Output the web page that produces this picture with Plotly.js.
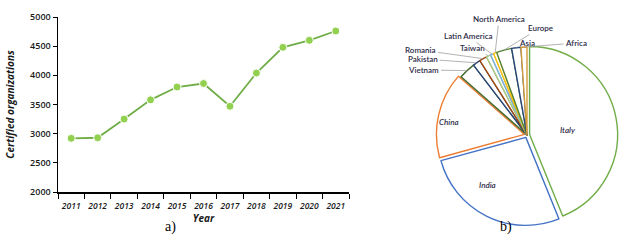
<!DOCTYPE html>
<html>
<head>
<meta charset="utf-8">
<script src="https://cdn.plot.ly/plotly-3.0.1.min.js"></script>
<style>html,body{margin:0;padding:0;background:#fff;}#chart{width:626px;height:247px;}</style>
</head>
<body>
<div id="chart"></div>
<script>
// ---- data: line chart (a) ----
var years = ['2011','2012','2013','2014','2015','2016','2017','2018','2019','2020','2021'];
var certified = [2920, 2930, 3250, 3580, 3800, 3860, 3470, 4040, 4480, 4600, 4760];

// ---- data: pie chart (b) ----
var regions = ['Italy','India','China','Vietnam','Pakistan','Romania','Taiwan','Latin America','North America','Europe','Asia','Africa'];
var shares = [43.9, 26.9, 15.8, 3.1, 1.4, 1.4, 0.8, 0.6, 0.6, 2.8, 1.7, 1.1];
var sliceColors = ['#70AD47','#4472C4','#ED7D31','#43682B','#264478','#9E480E','#A9D18E','#7CAFDD','#FFC000','#548235','#264478','#D39A3B'];
var slicePull = [0.03,0.03,0.03,0,0,0,0,0,0,0,0,0];

var W = 626, H = 247;
function px(x){return x/W;}
function py(y){return 1 - y/H;}

// pie geometry (layout)
var cx = 527, cy = 135, R = 88;
var maxPull = Math.max.apply(null, slicePull);
var box = 2*R*(1+maxPull);

var lineTrace = {
  type:'scatter', mode:'lines+markers', x: years, y: certified,
  xaxis:'x', yaxis:'y',
  line:{color:'#70AD47', width:1.8},
  marker:{color:'#92D050', size:8, line:{color:'#ffffff', width:1}},
  hoverinfo:'none', showlegend:false
};

var pieTrace = {
  type:'pie', labels: regions, values: shares, sort:false, direction:'clockwise', rotation:0,
  pull: slicePull, textinfo:'none', hoverinfo:'none', showlegend:false,
  marker:{colors: regions.map(function(){return '#ffffff';}), line:{color: sliceColors, width:1.4}},
  domain:{x:[px(cx-box/2), px(cx+box/2)], y:[py(cy+box/2), py(cy-box/2)]}
};

// label positions (layout)
var inside = {'Italy':[578,130], 'India':[498,192], 'China':[461,122]};
var outside = {
  'Vietnam':[424,70], 'Pakistan':[423,59], 'Romania':[421,50], 'Taiwan':[472,48],
  'Latin America':[468,36], 'North America':[499,19], 'Europe':[540,28], 'Asia':[527,43], 'Africa':[576,43]
};
var labelColor = '#2e2a48';
var labelFamily = 'Lato, "Open Sans", sans-serif';

var annotations = [];
var total = shares.reduce(function(a,b){return a+b;},0);
var cum = 0;
for (var i=0;i<regions.length;i++){
  var mid = (cum + shares[i]/2)/total*2*Math.PI;
  cum += shares[i];
  var name = regions[i];
  if (inside[name]){
    annotations.push({xref:'paper', yref:'paper', x:px(inside[name][0]), y:py(inside[name][1]),
      text:name, showarrow:false, font:{family:labelFamily, size:8, color:labelColor, style:'italic', weight:600}});
  } else if (outside[name]){
    var tx = cx + R*Math.sin(mid), ty = cy - R*Math.cos(mid);
    annotations.push({xref:'paper', yref:'paper', x:px(tx), y:py(ty),
      ax: outside[name][0]-tx, ay: outside[name][1]-ty,
      text:name, showarrow:true, arrowhead:0, arrowwidth:0.8, arrowcolor:'#a0a0a0', standoff:0,
      font:{family:labelFamily, size:8, color:labelColor, weight:600}});
  }
}
annotations.push({xref:'paper', yref:'paper', x:px(163), y:py(237), text:'a)', showarrow:false,
  font:{family:'"Liberation Serif", "DejaVu Serif", serif', size:14, color:'#000'}});
annotations.push({xref:'paper', yref:'paper', x:px(514), y:py(237), text:'b)', showarrow:false,
  font:{family:'"Liberation Serif", "DejaVu Serif", serif', size:14, color:'#000'}});

var fam = '"Open Sans", Lato, sans-serif';

var layout = {
  width:W, height:H, margin:{l:0,r:0,t:0,b:0}, paper_bgcolor:'#fff', plot_bgcolor:'#fff',
  xaxis:{domain:[px(58), px(349)], type:'category', range:[-0.5, 10.5], tickson:'boundaries',
    ticks:'outside', ticklen:5, tickcolor:'#000', tickwidth:1, showline:true, linecolor:'#000', linewidth:1.5,
    showgrid:false, zeroline:false, fixedrange:true, tickangle:0, ticklabelstandoff:5,
    tickfont:{family:fam, size:8.5, color:'#1a1a1a', weight:600, style:'italic'},
    title:{text:'Year', font:{family:fam, size:10, color:'#1a1a1a', weight:700, style:'italic'}, standoff:5}},
  yaxis:{domain:[py(192), py(17)], range:[2000, 5000], dtick:500, tick0:2000,
    ticks:'outside', ticklen:4, tickcolor:'#000', showline:true, linecolor:'#000', linewidth:1.5,
    showgrid:false, zeroline:false, fixedrange:true,
    tickfont:{family:fam, size:9, color:'#1a1a1a', weight:600},
    title:{text:'Certified organizations', font:{family:fam, size:10, color:'#1a1a1a', weight:700, style:'italic'}, standoff:13}},
  annotations: annotations,
  showlegend:false
};

Plotly.newPlot('chart', [lineTrace, pieTrace], layout, {staticPlot:true, displayModeBar:false});
</script>
</body>
</html>
